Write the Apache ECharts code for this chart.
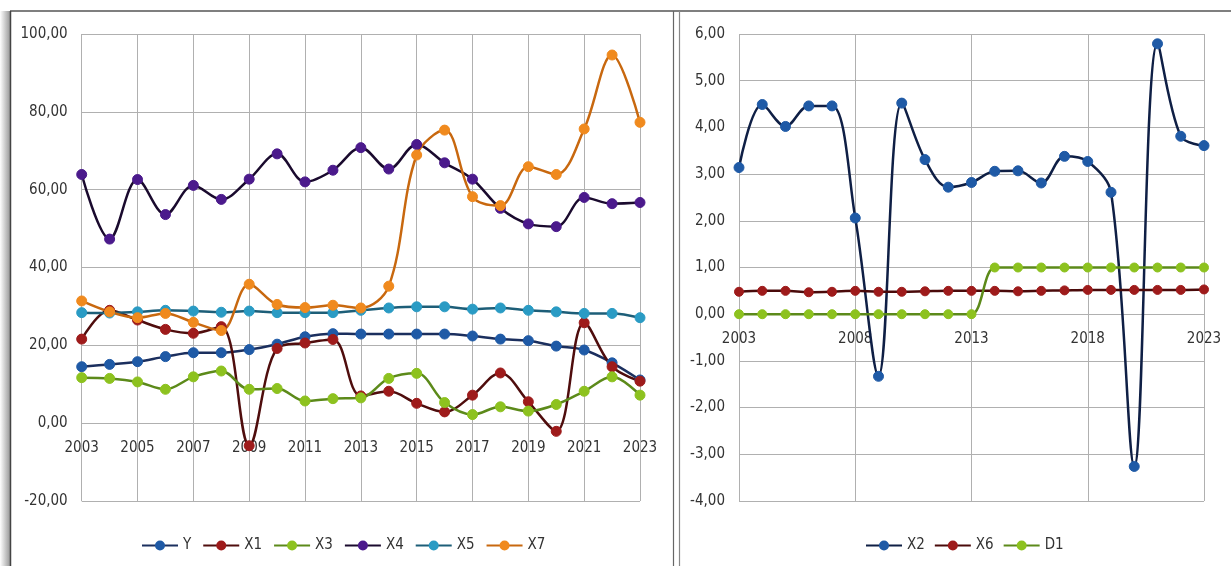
<!DOCTYPE html>
<html><head><meta charset="utf-8">
<script src="https://cdn.jsdelivr.net/npm/echarts@6.0.0/dist/echarts.min.js"></script>
<style>html,body{margin:0;padding:0;background:#fff}#c{width:1231px;height:566px}</style>
</head><body><div id="c"></div>
<script>
const years = ['2003','2004','2005','2006','2007','2008','2009','2010','2011','2012','2013','2014','2015','2016','2017','2018','2019','2020','2021','2022','2023'];
const Y  = [14.5,15.1,15.8,17.1,18.1,18.1,18.9,20.3,22.2,23.0,22.9,22.9,22.9,22.9,22.4,21.6,21.2,19.8,18.8,15.5,11.1];
const X1 = [21.6,29.0,26.5,24.1,23.1,24.8,-5.8,19.2,20.6,21.5,7.0,8.2,5.1,2.9,7.2,12.9,5.5,-2.1,25.8,14.5,10.8];
const X3 = [11.7,11.5,10.6,8.7,11.9,13.4,8.7,8.9,5.7,6.3,6.5,11.5,12.8,5.3,2.2,4.2,3.1,4.8,8.2,11.9,7.2];
const X4 = [63.9,47.3,62.6,53.6,61.1,57.5,62.7,69.2,62.0,65.0,70.8,65.3,71.6,66.9,62.7,55.2,51.2,50.5,58.0,56.4,56.7];
const X5 = [28.4,28.3,28.6,29.0,28.8,28.5,28.8,28.4,28.4,28.4,29.0,29.6,29.9,29.9,29.3,29.6,29.0,28.6,28.2,28.2,27.1];
const X7 = [31.4,28.6,27.1,28.2,25.9,23.8,35.7,30.5,29.7,30.3,29.6,35.2,68.9,75.3,58.2,55.9,65.9,63.9,75.6,94.6,77.3];
const X2 = [3.14,4.49,4.02,4.46,4.46,2.06,-1.33,4.52,3.31,2.72,2.82,3.06,3.07,2.81,3.38,3.27,2.61,-3.26,5.79,3.81,3.61];
const X6 = [0.48,0.50,0.50,0.47,0.48,0.50,0.48,0.48,0.49,0.50,0.50,0.50,0.49,0.50,0.51,0.52,0.52,0.52,0.52,0.52,0.53];
const D1 = [0,0,0,0,0,0,0,0,0,0,0,1,1,1,1,1,1,1,1,1,1];
const leftTicks = {min:-20, max:100, interval:20};
const rightTicks = {min:-4, max:6, interval:1};

const FONT = "'Liberation Sans Narrow','DejaVu Sans Condensed','Open Sans',sans-serif";
const GRID = '#b0b0b0';
const fmt = v => v.toFixed(2).replace('.', ',');
const PLOT_H = 467; // grid height in px (top 34, bottom 65)

function mk(name, data, idx, line, mark, size){
  return {name, type:'line', data, xAxisIndex:idx, yAxisIndex:idx, smooth:0.35,
    symbol:'circle', symbolSize:size||10,
    lineStyle:{color:line, width:2.5}, itemStyle:{color:mark, borderColor:mark, borderWidth:1}};
}
function xAx(idx, interval, t){
  // place the category axis on the value 0 of the value axis
  const off = -PLOT_H * (0 - t.min) / (t.max - t.min);
  return {type:'category', gridIndex:idx, data:years, boundaryGap:false, position:'bottom', offset:off,
    axisLine:{onZero:false, lineStyle:{color:GRID, width:1}}, axisTick:{show:false},
    axisLabel:{interval, color:'#333', fontFamily:FONT, fontSize:15, margin:17, showMaxLabel:true},
    splitLine:{show:true, interval, lineStyle:{color:GRID, width:1}}};
}
function yAx(idx, t){
  return {type:'value', gridIndex:idx, min:t.min, max:t.max, interval:t.interval,
    axisLine:{show:false}, axisTick:{show:false},
    axisLabel:{formatter:fmt, color:'#333', fontFamily:FONT, fontSize:15, margin:14},
    splitLine:{show:true, lineStyle:{color:GRID, width:1}}};
}
const legendText = {fontFamily:FONT, fontSize:15, color:'#333'};
const chart = echarts.init(document.getElementById('c'));
chart.setOption({
  backgroundColor:'#fff',
  animation:false,
  grid:[{left:81.7, right:591, top:34, bottom:65},{left:739, right:27, top:34, bottom:65}],
  xAxis:[xAx(0,1,leftTicks), xAx(1,4,rightTicks)],
  yAxis:[yAx(0,leftTicks), yAx(1,rightTicks)],
  legend:[
    {data:['Y','X1','X3','X4','X5','X7'], left:136, top:533, itemWidth:36, itemHeight:10, itemGap:11, textStyle:legendText},
    {data:['X2','X6','D1'], left:860, top:533, itemWidth:36, itemHeight:10, itemGap:9, textStyle:legendText}
  ],
  series:[
    mk('Y', Y, 0, '#1b2f5e', '#1f5aa6'),
    mk('X1', X1, 0, '#4f0d0d', '#9e1b1b'),
    mk('X3', X3, 0, '#5c8a1a', '#8dc21f'),
    mk('X4', X4, 0, '#1a0a2e', '#4b1a8c'),
    mk('X5', X5, 0, '#1d5e78', '#2a9bc4'),
    mk('X7', X7, 0, '#c8680f', '#f08a1e'),
    mk('X2', X2, 1, '#0f1f45', '#1f5aa6'),
    mk('X6', X6, 1, '#4a0a0a', '#9e1b1b', 9),
    mk('D1', D1, 1, '#5c8a1a', '#8dc21f', 9)
  ],
  graphic:[
    {type:'rect', shape:{x:0, y:11, width:10, height:560}, style:{fill:new echarts.graphic.LinearGradient(0,0,1,0,[{offset:0,color:'#ffffff'},{offset:1,color:'#9a9a9a'}])}, silent:true},
    {type:'line', shape:{x1:10, y1:11, x2:1231, y2:11}, style:{stroke:'#555', lineWidth:1.5}, silent:true},
    {type:'line', shape:{x1:10.5, y1:11, x2:10.5, y2:566}, style:{stroke:'#444', lineWidth:1.5}, silent:true},
    {type:'line', shape:{x1:673.5, y1:11, x2:673.5, y2:566}, style:{stroke:'#666', lineWidth:1.2}, silent:true},
    {type:'line', shape:{x1:679.5, y1:11, x2:679.5, y2:566}, style:{stroke:'#888', lineWidth:1.2}, silent:true}
  ]
});
</script></body></html>
